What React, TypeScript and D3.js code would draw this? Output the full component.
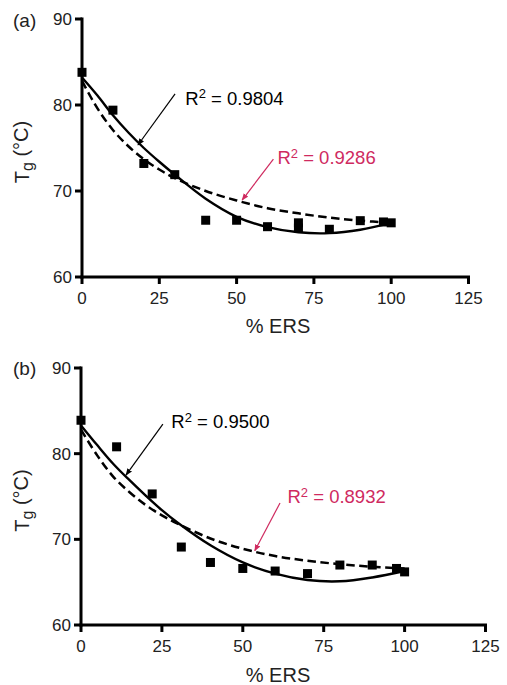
import React from "react";
import * as d3 from "d3";

// ---- data ----
const xTicks = [0, 25, 50, 75, 100, 125];
const yTicks = [60, 70, 80, 90];

// panel (a) measured points
const ptsAx = [0, 10, 20, 30, 40, 50, 60, 70, 70, 80, 90, 97.5, 100];
const ptsAy = [83.8, 79.4, 73.2, 71.9, 66.6, 66.6, 65.85, 66.3, 65.7, 65.55, 66.55, 66.4, 66.3];
// panel (b) measured points
const ptsBx = [0, 11, 22, 31, 40, 50, 60, 70, 80, 90, 97.5, 100];
const ptsBy = [83.9, 80.8, 75.3, 69.1, 67.3, 66.6, 66.3, 66.0, 67.0, 67.0, 66.6, 66.2];

// fitted curves
const curveX = [0, 5, 10, 15, 20, 25, 30, 40, 50, 60, 70, 80, 90, 100];
const solidA = [83.2, 81.1, 78.8, 76.8, 75.0, 73.4, 71.9, 69.1, 67.0, 65.8, 65.2, 65.1, 65.5, 66.3];
const dashA = [82.8, 79.6, 77.1, 75.2, 73.7, 72.5, 71.5, 70.0, 68.9, 68.0, 67.4, 66.9, 66.55, 66.3];
const solidB = [83.3, 81.0, 78.8, 76.9, 75.1, 73.4, 71.9, 69.3, 67.3, 66.0, 65.25, 65.1, 65.55, 66.3];
const dashB = [82.8, 79.8, 77.3, 75.5, 74.0, 72.8, 71.8, 70.1, 68.9, 68.05, 67.5, 67.1, 66.8, 66.6];

const r2A = ["0.9804", "0.9286"];
const r2B = ["0.9500", "0.8932"];

const RED = "#cf2a5f";
const FONT = "'Liberation Sans', Arial, sans-serif";

type Ann = { tx: number; ty: number; ax: number; ay: number; bx: number; by: number };
type PanelProps = {
  label: string;
  xRange: [number, number];
  yRange: [number, number];
  px: number[];
  py: number[];
  solid: number[];
  dash: number[];
  r2: string[];
  ann: { black: Ann; red: Ann };
  xLabelY: number;
  labelPos: [number, number];
};

function Panel(p: PanelProps) {
  const x = d3.scaleLinear().domain([0, 125]).range(p.xRange);
  const y = d3.scaleLinear().domain([60, 90]).range(p.yRange);
  const line = d3
    .line<[number, number]>()
    .x((d) => x(d[0]))
    .y((d) => y(d[1]))
    .curve(d3.curveCatmullRom.alpha(0.5));
  const solidPts = curveX.map((v, i) => [v, p.solid[i]] as [number, number]);
  const dashPts = curveX.map((v, i) => [v, p.dash[i]] as [number, number]);
  const x0 = p.xRange[0];
  const yb = p.yRange[0];
  const sq = 9;
  const yMid = (p.yRange[0] + p.yRange[1]) / 2 + 4;

  const renderAnn = (a: Ann, txt: string, color: string, marker: string) => (
    <g>
      <line
        x1={x(a.ax)}
        y1={y(a.ay)}
        x2={x(a.bx)}
        y2={y(a.by)}
        stroke={color}
        strokeWidth={1.2}
        markerEnd={`url(#${marker})`}
      />
      <text x={x(a.tx)} y={y(a.ty)} dy="0.35em" fill={color} fontSize={18.5} fontFamily={FONT}>
        R
        <tspan fontSize={13} dy="-0.5em">
          2
        </tspan>
        <tspan dy="0.35em"> = {txt}</tspan>
      </text>
    </g>
  );

  return (
    <g>
      {/* curves */}
      <path d={line(dashPts) || ""} fill="none" stroke="#000" strokeWidth={2.5} strokeDasharray="8.5,4.5" />
      <path d={line(solidPts) || ""} fill="none" stroke="#000" strokeWidth={2.4} />
      {/* points */}
      {p.px.map((v, i) => (
        <rect key={i} x={x(v) - sq / 2} y={y(p.py[i]) - sq / 2} width={sq} height={sq} fill="#000" />
      ))}
      {/* axes */}
      <line x1={x0} y1={yb + 1.5} x2={x0} y2={p.yRange[1] - 1.5} stroke="#000" strokeWidth={3} />
      <line x1={x0 - 1.5} y1={yb} x2={p.xRange[1] + 1.5} y2={yb} stroke="#000" strokeWidth={3} />
      {yTicks.map((t) => (
        <g key={"y" + t}>
          <line x1={x0 - 7} x2={x0} y1={y(t)} y2={y(t)} stroke="#000" strokeWidth={3} />
          <text
            x={x0 - 10}
            y={y(t)}
            dy="0.36em"
            textAnchor="end"
            fontSize={17}
            fontFamily={FONT}
            fill="#222"
          >
            {t}
          </text>
        </g>
      ))}
      {xTicks.map((t) => (
        <g key={"x" + t}>
          <line x1={x(t)} x2={x(t)} y1={yb} y2={yb + 7} stroke="#000" strokeWidth={3} />
          <text
            x={x(t)}
            y={yb + 27}
            textAnchor="middle"
            fontSize={17}
            fontFamily={FONT}
            fill="#222"
          >
            {t}
          </text>
        </g>
      ))}
      {/* axis labels */}
      <text x={278} y={p.xLabelY} textAnchor="middle" fontSize={20} fontFamily={FONT} fill="#222">
        % ERS
      </text>
      <text
        transform={`translate(29,${yMid}) rotate(-90)`}
        textAnchor="middle"
        fontSize={20}
        fontFamily={FONT}
        fill="#222"
      >
        T
        <tspan fontSize={16} dy="0.28em">
          g
        </tspan>
        <tspan dy="-0.28em"> (°C)</tspan>
      </text>
      <text x={p.labelPos[0]} y={p.labelPos[1]} fontSize={19} fontFamily={FONT} fill="#222">
        {p.label}
      </text>
      {renderAnn(p.ann.black, p.r2[0], "#000", "arrBlack")}
      {renderAnn(p.ann.red, p.r2[1], RED, "arrRed")}
    </g>
  );
}

export default function App() {
  return (
    <svg
      width={507}
      height={685}
      style={{ position: "absolute", left: 0, top: 0, background: "#fff" }}
    >
      <defs>
        <marker id="arrBlack" viewBox="0 0 10 10" refX="9" refY="5" markerWidth="7" markerHeight="7" orient="auto" markerUnits="userSpaceOnUse">
          <path d="M0,1 L10,5 L0,9 z" fill="#000" />
        </marker>
        <marker id="arrRed" viewBox="0 0 10 10" refX="9" refY="5" markerWidth="7" markerHeight="7" orient="auto" markerUnits="userSpaceOnUse">
          <path d="M0,1 L10,5 L0,9 z" fill={RED} />
        </marker>
      </defs>
      <Panel
        label="(a)"
        xRange={[82, 468.5]}
        yRange={[277, 19]}
        px={ptsAx}
        py={ptsAy}
        solid={solidA}
        dash={dashA}
        r2={r2A}
        ann={{
          black: { tx: 33.4, ty: 80.8, ax: 30.1, ay: 81.3, bx: 18.1, by: 75.35 },
          red: { tx: 63.2, ty: 73.84, ax: 61.9, ay: 73.7, bx: 51.8, by: 68.95 },
        }}
        xLabelY={333}
        labelPos={[13, 27]}
      />
      <Panel
        label="(b)"
        xRange={[81, 485.5]}
        yRange={[625, 368]}
        px={ptsBx}
        py={ptsBy}
        solid={solidB}
        dash={dashB}
        r2={r2B}
        ann={{
          black: { tx: 27.9, ty: 83.73, ax: 25.3, ay: 83.46, bx: 13.9, by: 77.5 },
          red: { tx: 63.8, ty: 74.98, ax: 61.5, ay: 74.24, bx: 53.7, by: 68.67 },
        }}
        xLabelY={682}
        labelPos={[13, 375]}
      />
    </svg>
  );
}
